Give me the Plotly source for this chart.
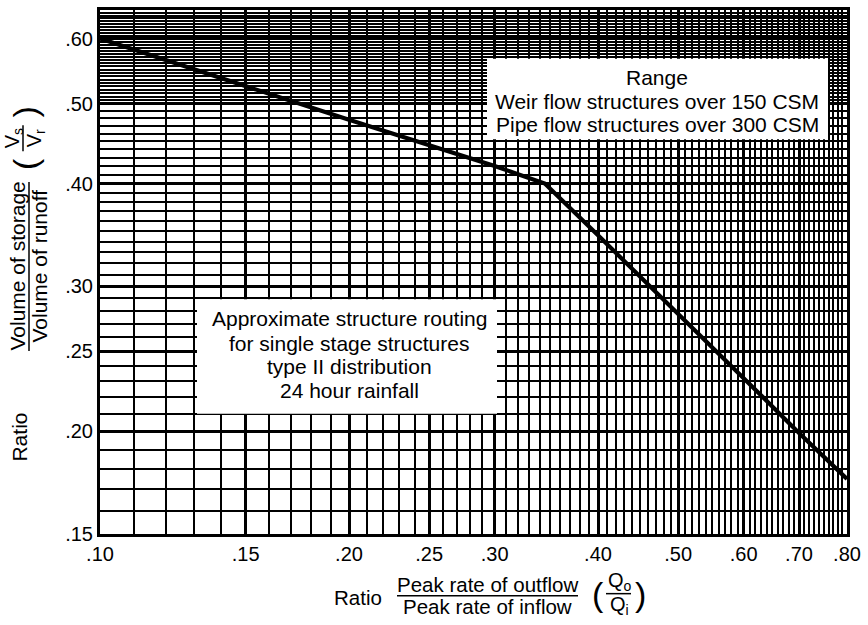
import numpy as np
import plotly.graph_objects as go

# Routing curve: storage ratio vs. discharge ratio
qo_qi = [0.10, 0.20, 0.30, 0.345, 0.40, 0.50, 0.60, 0.70, 0.80]
vs_vr = [0.600, 0.478, 0.420, 0.400, 0.346, 0.278, 0.232, 0.199, 0.175]

# Labelled (heavy) grid values
x_major = [0.10, 0.15, 0.20, 0.25, 0.30, 0.40, 0.50, 0.60, 0.70, 0.80]
x_labels = [".10", ".15", ".20", ".25", ".30", ".40", ".50", ".60", ".70", ".80"]
y_major = [0.15, 0.20, 0.25, 0.30, 0.40, 0.50, 0.60]
y_labels = [".15", ".20", ".25", ".30", ".40", ".50", ".60"]

# Light grid values
x_minor = [round(v, 3) for v in np.arange(0.10, 0.8001, 0.01)]
y_minor = [round(v, 3) for v in np.arange(0.15, 0.5001, 0.01)] + \
          [round(v, 3) for v in np.arange(0.505, 0.6501, 0.005)]

X_RANGE = [0.10, 0.80]
Y_RANGE = [0.15, 0.65]

W, H = 868, 625
L, R, T, B = 100, 21, 7, 91
PW, PH = W - L - R, H - T - B
FONT = "Liberation Sans, Arial, Helvetica, sans-serif"


def px(x):
    return (x - L) / PW


def py(y):
    return (H - B - y) / PH


fig = go.Figure()
fig.add_trace(go.Scatter(
    x=qo_qi, y=vs_vr, mode="lines",
    line=dict(color="black", width=4.2),
    showlegend=False, hoverinfo="skip",
))

axis_common = dict(
    type="log",
    showline=True, linecolor="black", linewidth=3, mirror=True,
    showgrid=True, gridcolor="black", gridwidth=2.8,
    ticks="", zeroline=False,
    tickfont=dict(family=FONT, size=20, color="black"),
    tickmode="array",
)

fig.update_xaxes(
    **axis_common,
    range=[np.log10(X_RANGE[0]), np.log10(X_RANGE[1])],
    tickvals=x_major, ticktext=x_labels,
    minor=dict(tickvals=x_minor, showgrid=True, gridcolor="black", gridwidth=1.6, ticks=""),
)
fig.update_yaxes(
    **axis_common,
    range=[np.log10(Y_RANGE[0]), np.log10(Y_RANGE[1])],
    tickvals=y_major, ticktext=y_labels,
    minor=dict(tickvals=y_minor, showgrid=True, gridcolor="black", gridwidth=1.6, ticks=""),
)

shapes = []
# white panels behind the notes
for x0, y0, x1, y1 in [(487, 56, 828, 137), (197, 298, 497, 413)]:
    shapes.append(dict(type="rect", xref="paper", yref="paper",
                       x0=px(x0), x1=px(x1), y0=py(y1), y1=py(y0),
                       fillcolor="white", line=dict(width=0), layer="above"))
# fraction bars in the axis titles
shapes.append(dict(type="line", xref="paper", yref="paper",
                   x0=px(29), x1=px(29), y0=py(350), y1=py(180),
                   line=dict(color="black", width=1.5)))
shapes.append(dict(type="line", xref="paper", yref="paper",
                   x0=px(23), x1=px(23), y0=py(149), y1=py(123),
                   line=dict(color="black", width=1.5)))
shapes.append(dict(type="line", xref="paper", yref="paper",
                   x0=px(397), x1=px(578), y0=py(596), y1=py(596),
                   line=dict(color="black", width=1.5)))
shapes.append(dict(type="line", xref="paper", yref="paper",
                   x0=px(606), x1=px(631), y0=py(594), y1=py(594),
                   line=dict(color="black", width=1.5)))

annots = []


def note(text, x, y, size=20, angle=0):
    annots.append(dict(text=text, xref="paper", yref="paper", x=px(x), y=py(y),
                       xanchor="center", yanchor="middle", showarrow=False,
                       textangle=angle, font=dict(family=FONT, size=size, color="black")))


note("Range", 657, 75, 21)
note("Weir flow structures over 150 CSM", 657, 99, 21)
note("Pipe flow structures over 300 CSM", 657, 122, 21)

note("Approximate structure routing", 349, 317, 21)
note("for single stage structures", 349, 342, 21)
note("type II distribution", 349, 366, 21)
note("24 hour rainfall", 349, 390, 21)

# y-axis title
note("Ratio", 20, 437, 21, -90)
note("Volume of storage", 18, 265, 21, -90)
note("Volume of runoff", 40, 265, 21, -90)
note("V<sub>s</sub>", 13, 136, 20, -90)
note("V<sub>r</sub>", 35, 136, 20, -90)
note("(", 25, 162, 34, -90)
note(")", 25, 110, 34, -90)

# x-axis title
note("Ratio", 358, 598, 20.5)
note("Peak rate of outflow", 487, 585, 20.5)
note("Peak rate of inflow", 487, 607, 20.5)
note("Q<sub>o</sub>", 620, 582, 20)
note("Q<sub>i</sub>", 619, 606, 20)
note("(", 598, 594, 34)
note(")", 640, 594, 34)

fig.update_layout(
    width=W, height=H,
    margin=dict(l=L, r=R, t=T, b=B),
    plot_bgcolor="white", paper_bgcolor="white",
    shapes=shapes, annotations=annots,
    showlegend=False,
)

fig.write_html("out.html")
